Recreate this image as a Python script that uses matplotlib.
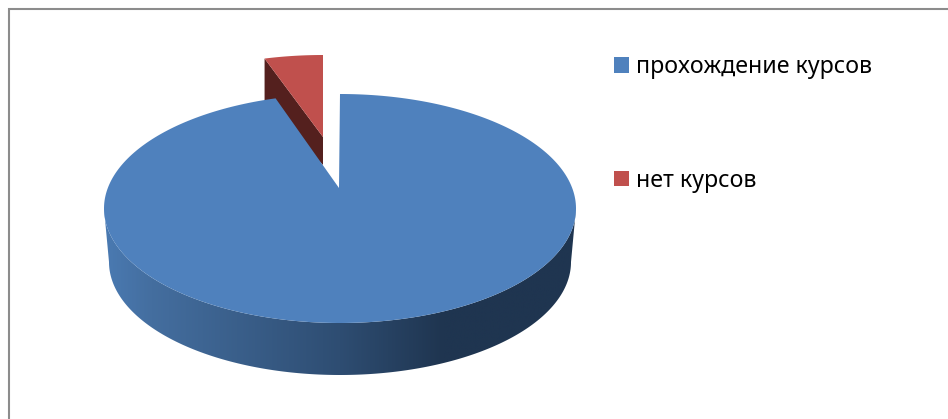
import numpy as np
from matplotlib import pyplot as plt
from matplotlib.colors import LinearSegmentedColormap
from matplotlib.patches import Patch

plt.rcParams['font.family'] = ['Noto Sans', 'DejaVu Sans']

labels = ["прохождение курсов", "нет курсов"]
shares = [95.6, 4.4]
colors = ["#4f81bd", "#c0504d"]
side_red = "#54201e"
side_stops = [(0.0, "#4a7ab2"), (0.1, "#446e9f"), (0.5, "#2e4d72"), (0.72, "#1f3550"), (1.0, "#1f3550")]

# ellipse params in pixels
cx, cy, rx, ry = 340, 208.5, 236, 114.5
bottom_cy, bottom_rx, bottom_ry = 262, 231, 113
apex = (339, 188)
red_cx, red_cy = 323, 169.5
red_apex_top = (323, 137)
red_apex_low = (323, 165)
red_squeeze = 0.905


def arc(center_x, center_y, radius_x, radius_y, start, end):
    # angles in degrees, clockwise from twelve o'clock
    t = np.radians(np.linspace(start, end, 300))
    return center_x + radius_x * np.sin(t), center_y - radius_y * np.cos(t)


fig = plt.figure(figsize=(9.48, 4.19), dpi=100)
ax = fig.add_axes([0, 0, 1, 1])
ax.set_xlim(0, 948)
ax.set_ylim(419, 0)
ax.axis("off")

# chart frame
ax.plot([9, 9, 948], [419, 9, 9], color="#8c8c8c", lw=1.5, solid_joinstyle="miter")

blue_angle = shares[0] / sum(shares) * 360
red_angle = shares[1] / sum(shares) * 360 * red_squeeze

# red slice, pulled out: dark cut side first, then the top
rx_pts, ry_pts = arc(red_cx, red_cy, rx, ry, -red_angle, 0)
ax.fill([rx_pts[0], red_apex_top[0], red_apex_low[0], rx_pts[0]],
        [ry_pts[0], red_apex_top[1], red_apex_low[1], ry_pts[0] + 45],
        color=side_red, lw=0)
ax.fill(np.r_[rx_pts, red_apex_top[0]], np.r_[ry_pts, red_apex_top[1]], color=colors[1], lw=0)

# blue rim with a gradient, clipped to the outline between both ellipses
top_x, top_y = arc(cx, cy, rx, ry, 90, 270)
low_x, low_y = arc(cx, bottom_cy, bottom_rx, bottom_ry, 270, 90)
rim = ax.fill(np.r_[top_x, low_x], np.r_[top_y, low_y], color="none", lw=0)[0]
cmap = LinearSegmentedColormap.from_list("rim", side_stops)
img = ax.imshow(np.linspace(0, 1, 256)[None, :], cmap=cmap, aspect="auto",
                extent=[cx - rx, cx + rx, 380, 200], zorder=2)
img.set_clip_path(rim)
ax.set_xlim(0, 948)
ax.set_ylim(419, 0)

# blue top
bx, by = arc(cx, cy, rx, ry, 0, blue_angle)
ax.fill(np.r_[bx, apex[0]], np.r_[by, apex[1]], color=colors[0], lw=0, zorder=3)

# legend
handles = [Patch(facecolor=c, edgecolor="none") for c in colors]
ax.legend(handles, labels, loc="upper left", bbox_to_anchor=(614 / 948, 1 - 55 / 419),
          frameon=False, fontsize=16.7, handlelength=0.65, handleheight=0.65,
          handletextpad=0.3, labelspacing=3.86, borderaxespad=0, borderpad=0,
          labelcolor="black")

fig.savefig("out.png", dpi=100)
